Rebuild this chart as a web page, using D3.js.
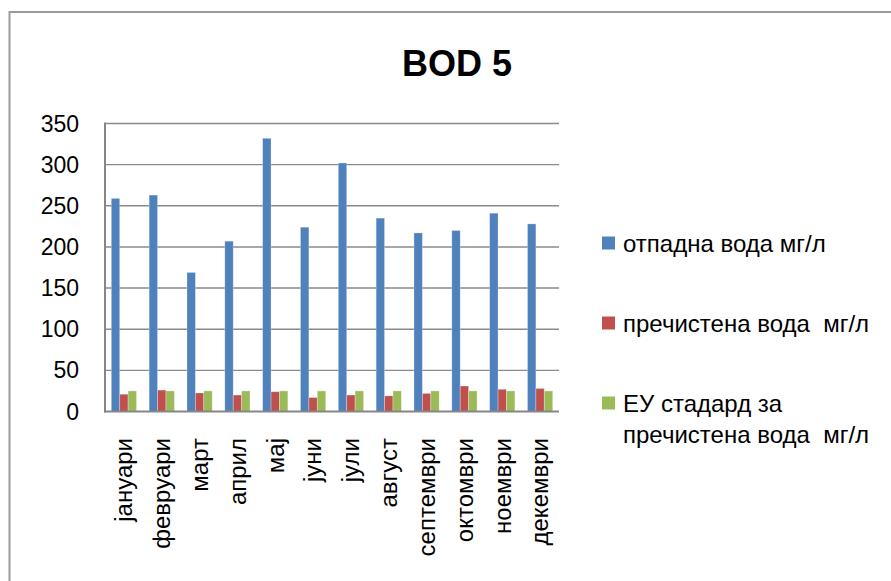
<!DOCTYPE html>
<html>
<head>
<meta charset="utf-8">
<script src="https://cdn.jsdelivr.net/npm/d3@7"></script>
<style>
    body { margin: 0; background: #fff; }
    text { font-family: "Liberation Sans", Arial, sans-serif; fill: #000; white-space: pre; }
</style>
</head>
<body>
<svg id="chart" width="891" height="581"></svg>
<script>
// data
var months = ["јануари", "февруари", "март", "април", "мај", "јуни",
    "јули", "август", "септември", "октомври", "ноември", "декември"];
var wasteWater = [259, 263, 169, 207, 332, 224, 302, 235, 217, 220, 241, 228];
var treatedWater = [21, 26, 22.5, 20, 24, 17, 20, 19, 22, 31, 27, 28];
var euStandard = [25, 25, 25, 25, 25, 25, 25, 25, 25, 25, 25, 25];
var yTicks = [0, 50, 100, 150, 200, 250, 300, 350];
var seriesNames = ["отпадна вода мг/л", "пречистена вода  мг/л", "ЕУ стадард за\nпречистена вода  мг/л"];
var seriesColors = ["#4f81bd", "#c0504d", "#9bbb59"];

var svg = d3.select("#chart");

// outer chart frame (only left and top edge visible in the picture)
svg.append("rect")
    .attr("x", 9.5).attr("y", 12)
    .attr("width", 1000).attr("height", 1000)
    .attr("fill", "none")
    .attr("stroke", "#9a9a9a")
    .attr("stroke-width", 2);

// title
svg.append("text")
    .attr("x", 457).attr("y", 76)
    .attr("text-anchor", "middle")
    .style("font-size", "36px")
    .style("font-weight", "bold")
    .text("BOD 5");

var plot = { left: 105, right: 559, top: 123.5, bottom: 411.5 };

var x = d3.scaleBand()
    .domain(months)
    .range([plot.left, plot.right])
    .paddingInner(1 / 3)
    .paddingOuter(1 / 6);

var x1 = d3.scaleBand()
    .domain([0, 1, 2])
    .range([0, x.bandwidth()]);

var y = d3.scaleLinear()
    .domain([0, 350])
    .range([plot.bottom, plot.top]);

// gridlines
svg.append("g")
    .selectAll("line")
    .data(yTicks.slice(1))
    .enter()
    .append("line")
    .attr("x1", plot.left).attr("x2", plot.right)
    .attr("y1", function (d) { return y(d); })
    .attr("y2", function (d) { return y(d); })
    .attr("stroke", "#8a8a8a")
    .attr("stroke-width", 1.4);

// y labels
svg.append("g")
    .selectAll("text")
    .data(yTicks)
    .enter()
    .append("text")
    .attr("x", 79)
    .attr("y", function (d) { return y(d); })
    .attr("dy", "0.35em")
    .attr("text-anchor", "end")
    .style("font-size", "23px")
    .text(function (d) { return d; });

// bars
var series = [wasteWater, treatedWater, euStandard];
var groups = svg.append("g")
    .selectAll("g")
    .data(months)
    .enter()
    .append("g")
    .attr("transform", function (d) { return "translate(" + x(d) + ",0)"; });

groups.selectAll("rect")
    .data(function (m, i) {
        return series.map(function (s, k) { return { k: k, v: s[i] }; });
    })
    .enter()
    .append("rect")
    .attr("x", function (d) { return x1(d.k); })
    .attr("width", x1.bandwidth())
    .attr("y", function (d) { return y(d.v); })
    .attr("height", function (d) { return y(0) - y(d.v); })
    .attr("fill", function (d) { return seriesColors[d.k]; })
    .attr("stroke", "#ffffff")
    .attr("stroke-opacity", 0.35)
    .attr("stroke-width", 0.8);

// axis lines
svg.append("line")
    .attr("x1", plot.left).attr("x2", plot.left)
    .attr("y1", plot.top - 1).attr("y2", plot.bottom + 1)
    .attr("stroke", "#868686").attr("stroke-width", 2);
svg.append("line")
    .attr("x1", plot.left - 1).attr("x2", plot.right)
    .attr("y1", plot.bottom).attr("y2", plot.bottom)
    .attr("stroke", "#868686").attr("stroke-width", 2);

// month labels, rotated
svg.append("g")
    .selectAll("text")
    .data(months)
    .enter()
    .append("text")
    .attr("transform", function (d) {
        return "translate(" + (x(d) + x.bandwidth() / 2) + ",438) rotate(-90)";
    })
    .attr("dy", "0.35em")
    .attr("text-anchor", "end")
    .style("font-size", "24px")
    .text(function (d) { return d; });

// legend
var legendY = [251.5, 331.5, 411.5];
var legend = svg.append("g")
    .selectAll("g")
    .data(seriesNames)
    .enter()
    .append("g")
    .attr("transform", function (d, i) { return "translate(602," + legendY[i] + ")"; });

legend.append("rect")
    .attr("x", 0).attr("y", -15)
    .attr("width", 13).attr("height", 13)
    .attr("fill", function (d, i) { return seriesColors[i]; });

legend.append("text")
    .attr("x", 21)
    .style("font-size", "24px")
    .selectAll("tspan")
    .data(function (d) { return d.split("\n"); })
    .enter()
    .append("tspan")
    .attr("x", 21)
    .attr("y", function (d, i) { return i * 31.7; })
    .text(function (d) { return d; });
</script>
</body>
</html>
